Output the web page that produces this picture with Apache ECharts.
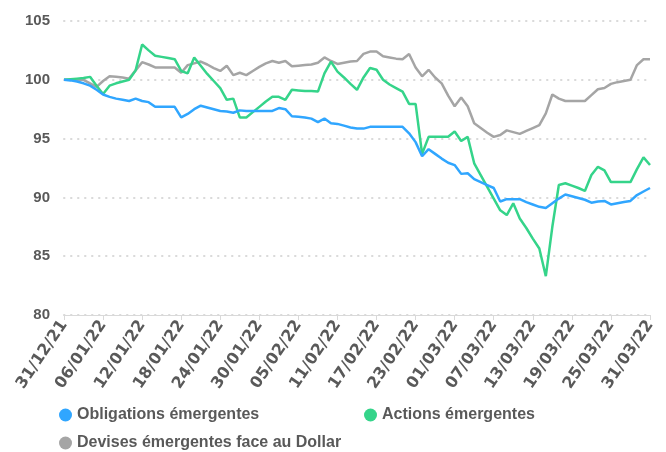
<!DOCTYPE html>
<html>
<head>
<meta charset="utf-8">
<script src="https://cdn.jsdelivr.net/npm/echarts@6/dist/echarts.min.js"></script>
<style>
  html, body { margin: 0; padding: 0; background: #fff; }
  #chart { width: 666px; height: 452px; }
</style>
</head>
<body>
<div id="chart"></div>
<script>
// daily points from 31/12/21 to 31/03/22
const startDate = new Date(2021, 11, 31)
const dayCount = 91
const pad = (v) => (v < 10 ? '0' + v : '' + v)
const days = []
for (let i = 0; i < dayCount; i++) {
  const d = new Date(startDate.getFullYear(), startDate.getMonth(), startDate.getDate() + i)
  days.push(pad(d.getDate()) + '/' + pad(d.getMonth() + 1) + '/' + String(d.getFullYear()).slice(2))
}

const obligations = [
  100, 99.95, 99.85, 99.7, 99.5, 99.15, 98.75, 98.55, 98.4, 98.3,
  98.2, 98.4, 98.2, 98.1, 97.7, 97.7, 97.7, 97.7, 96.8, 97.1,
  97.5, 97.8, 97.65, 97.5, 97.35, 97.3, 97.2, 97.4, 97.35, 97.35,
  97.35, 97.35, 97.35, 97.6, 97.5, 96.9, 96.85, 96.8, 96.7, 96.4,
  96.7, 96.3, 96.25, 96.1, 95.95, 95.85, 95.85, 96.0, 96.0, 96.0,
  96.0, 96.0, 96.0, 95.45, 94.7, 93.5, 94.1, 93.7, 93.3, 92.95,
  92.75, 92.0, 92.05, 91.55, 91.3, 91.05, 90.8, 89.65, 89.85, 89.85,
  89.85, 89.6, 89.4, 89.2, 89.1, 89.5, 89.9, 90.25, 90.1, 89.95,
  89.8, 89.55, 89.65, 89.7, 89.4, 89.5, 89.6, 89.7, 90.2, 90.5,
  90.8
]

const actions = [
  100, 100.05, 100.1, 100.15, 100.25, 99.5, 98.8, 99.5, 99.7, 99.85,
  100.0, 100.8, 103.0, 102.5, 102.05, 101.95, 101.85, 101.75, 100.75, 100.55,
  101.9, 101.2, 100.5, 99.9, 99.3, 98.3, 98.4, 96.8, 96.8, 97.25,
  97.7, 98.15, 98.55, 98.55, 98.3, 99.15, 99.1, 99.05, 99.05, 99.0,
  100.55, 101.55, 100.7, 100.2, 99.65, 99.15, 100.2, 101.0, 100.85, 100.0,
  99.6, 99.3, 99.0, 97.95, 97.95, 93.7, 95.15, 95.15, 95.15, 95.15,
  95.6, 94.8, 95.15, 92.9, 91.9, 90.9, 89.9, 88.9, 88.5, 89.5,
  88.2, 87.4, 86.5, 85.65, 83.3, 87.5, 91.05, 91.2, 91.0, 90.8,
  90.55, 91.9, 92.6, 92.3, 91.3, 91.3, 91.3, 91.3, 92.4, 93.4,
  92.75
]

const devises = [
  100, 100, 100, 100, 99.7, 99.4, 99.9, 100.3, 100.25, 100.2,
  100.1, 100.8, 101.5, 101.3, 101.05, 101.05, 101.05, 101.05, 100.6, 101.25,
  101.4, 101.55, 101.3, 101.0, 100.75, 101.2, 100.4, 100.6, 100.4, 100.75,
  101.1, 101.4, 101.6, 101.45, 101.6, 101.15, 101.2, 101.25, 101.3, 101.45,
  101.9, 101.6, 101.35, 101.45, 101.55, 101.6, 102.2, 102.4, 102.4, 102.0,
  101.9, 101.8, 101.75, 102.2, 101.05, 100.3, 100.85, 100.2, 99.7, 98.65,
  97.75, 98.5, 97.75, 96.3, 95.9, 95.5, 95.15, 95.3, 95.7, 95.55,
  95.4, 95.65, 95.9, 96.15, 97.15, 98.75, 98.4, 98.2, 98.2, 98.2,
  98.2, 98.7, 99.2, 99.3, 99.65, 99.8, 99.9, 100.0, 101.25, 101.75,
  101.75
]

const seriesNames = ['Obligations émergentes', 'Actions émergentes', 'Devises émergentes face au Dollar']
const seriesColors = ['#30A6FF', '#35D48A', '#A5A5A5']
const seriesData = [obligations, actions, devises]

const textFont = 'Liberation Sans'
const textColor = '#595959'

const myChart = echarts.init(document.getElementById('chart'))

const legendBase = {
  icon: 'circle',
  itemWidth: 13,
  itemHeight: 13,
  itemGap: 6,
  textStyle: { fontFamily: textFont, fontWeight: 'bold', fontSize: 16, color: textColor }
}

const option = {
  animation: false,
  backgroundColor: '#ffffff',
  grid: { left: 64, right: 16, top: 21, bottom: 137 },
  legend: [
    { ...legendBase, data: [seriesNames[0]], left: 54, top: 402 },
    { ...legendBase, data: [seriesNames[1]], left: 359, top: 402 },
    { ...legendBase, data: [seriesNames[2]], left: 54, top: 430 }
  ],
  xAxis: {
    type: 'category',
    data: days,
    boundaryGap: false,
    axisLine: { lineStyle: { color: '#D9D9D9', width: 1 } },
    axisTick: { show: true, interval: 5, length: 5, lineStyle: { color: '#D9D9D9' } },
    axisLabel: {
      interval: 5,
      rotate: 56,
      margin: 7,
      fontFamily: 'DejaVu Sans',
      fontWeight: 'bold',
      fontSize: 16,
      color: textColor
    },
    splitLine: { show: false }
  },
  yAxis: {
    type: 'value',
    min: 80,
    max: 105,
    interval: 5,
    axisLine: { show: false },
    axisTick: { show: false },
    axisLabel: {
      margin: 14,
      fontFamily: textFont,
      fontWeight: 'bold',
      fontSize: 15,
      color: textColor
    },
    splitLine: {
      lineStyle: { color: '#D9D9D9', width: 2, type: [0.5, 6.5], cap: 'round' }
    }
  },
  series: seriesNames.map((name, i) => ({
    name: name,
    type: 'line',
    data: seriesData[i],
    showSymbol: false,
    symbol: 'circle',
    color: seriesColors[i],
    lineStyle: { width: 2.5, color: seriesColors[i] },
    z: 3 - i
  }))
}

option && myChart.setOption(option)
</script>
</body>
</html>
